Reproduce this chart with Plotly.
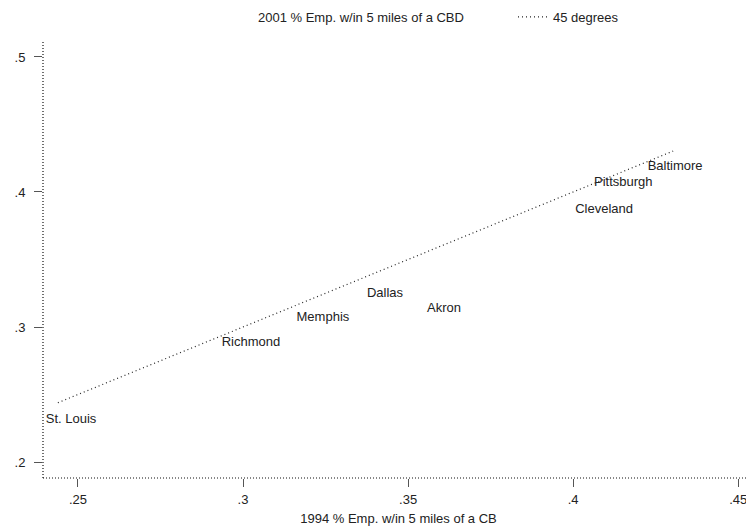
import plotly.graph_objects as go

# Data
cities = ["St. Louis", "Richmond", "Memphis", "Dallas", "Akron",
          "Cleveland", "Pittsburgh", "Baltimore"]
emp_1994 = [0.2479, 0.3024, 0.3242, 0.3430, 0.3609, 0.4094, 0.4152, 0.4309]
emp_2001 = [0.2311, 0.2881, 0.3067, 0.3244, 0.3133, 0.3867, 0.4067, 0.4185]

line45 = [0.2439, 0.4303]

x_tickvals = [0.25, 0.30, 0.35, 0.40, 0.45]
x_ticktext = [".25", ".3", ".35", ".4", ".45"]
y_tickvals = [0.2, 0.3, 0.4, 0.5]
y_ticktext = [".2", ".3", ".4", ".5"]

FONT = "Liberation Sans, Arial, sans-serif"
FS = 13

fig = go.Figure()
fig.add_trace(go.Scatter(
    x=emp_1994, y=emp_2001, text=cities,
    mode="markers+text", textposition="middle center",
    marker=dict(size=6, color="rgba(0,0,0,0)"),
    textfont=dict(family=FONT, size=FS, color="#222"),
    name="2001 % Emp. w/in 5 miles of a CBD",
))
fig.add_trace(go.Scatter(
    x=line45, y=line45, mode="lines",
    line=dict(color="#222", width=1.2, dash="1px,3px"),
    name="45 degrees",
))

axis_common = dict(
    showgrid=False, zeroline=False, showline=False, automargin=False,
    ticks="outside", ticklen=8, tickwidth=1, tickcolor="#555",
    tickfont=dict(family=FONT, size=FS, color="#222"),
)
fig.update_xaxes(range=[0.2394, 0.4548], tickvals=x_tickvals, ticktext=x_ticktext,
                 title=dict(text="1994 % Emp. w/in 5 miles of a CB",
                            font=dict(family=FONT, size=FS, color="#222"), standoff=8),
                 ticklabelstandoff=1, **axis_common)
fig.update_yaxes(range=[0.18815, 0.5111], tickvals=y_tickvals, ticktext=y_ticktext,
                 ticklabelstandoff=6, **axis_common)

# dotted axis lines
fig.add_shape(type="line", xref="paper", yref="paper", x0=0, x1=0, y0=0, y1=1,
              line=dict(color="#111", width=1.2, dash="1px,2px"))
fig.add_shape(type="line", xref="paper", yref="paper", x0=0, x1=1, y0=0, y1=0,
              line=dict(color="#111", width=1.2, dash="1px,2px"))

# the page body adds an 8px offset, so the figure is sized to fill the window
fig.update_layout(
    width=746, height=522,
    margin=dict(l=35, r=0, t=34, b=52),
    plot_bgcolor="white", paper_bgcolor="white",
    font=dict(family=FONT, size=FS, color="#222"),
    showlegend=True,
    legend=dict(orientation="h", xref="container", yref="container",
                x=0.2815, xanchor="left", y=0.983, yanchor="middle",
                entrywidth=250, entrywidthmode="pixels",
                font=dict(family=FONT, size=FS, color="#222"),
                bgcolor="rgba(0,0,0,0)"),
)

fig.write_html("out.html")
